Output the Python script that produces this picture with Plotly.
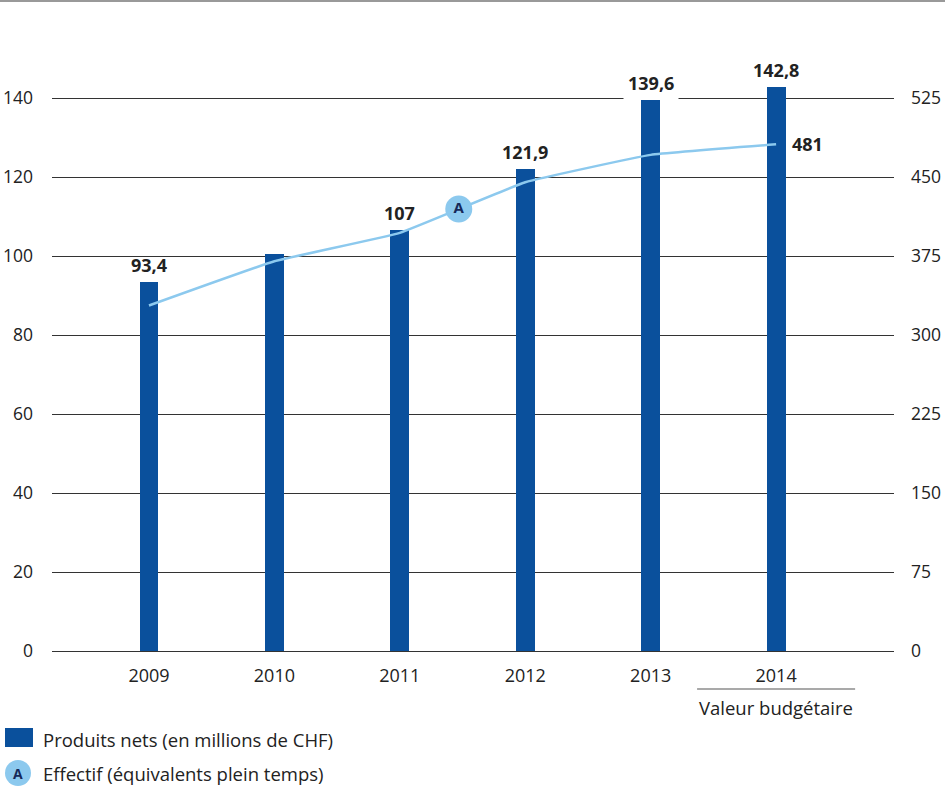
import plotly.graph_objects as go

years = ["2009", "2010", "2011", "2012", "2013", "2014"]
produits = [93.4, 100.5, 106.7, 121.9, 139.6, 142.8]
produits_labels = ["93,4", "", "107", "121,9", "139,6", "142,8"]
effectif = [328, 370, 397, 445, 471, 481]
effectif_label = "481"
left_ticks = [0, 20, 40, 60, 80, 100, 120, 140]
right_ticks = [0, 75, 150, 225, 300, 375, 450, 525]

BAR = "#0A509C"
LINE = "#8CC9EE"
TXT = "#222222"
FONT = "Open Sans"

xs = list(range(len(years)))

fig = go.Figure()
fig.add_trace(go.Bar(x=xs, y=produits, width=0.15, marker=dict(color=BAR, line=dict(width=0)),
                     yaxis="y", showlegend=False, hoverinfo="skip"))
fig.add_trace(go.Scatter(x=xs, y=effectif, mode="lines", yaxis="y2",
                         line=dict(color=LINE, width=2.5, shape="spline", smoothing=0.3),
                         showlegend=False, hoverinfo="skip"))
# "A" marker on the line, between 2011 and 2012
ax = 2.47
ay = effectif[2] + (effectif[3] - effectif[2]) * (ax - 2)
fig.add_trace(go.Scatter(x=[ax], y=[ay], mode="markers+text", yaxis="y2",
                         marker=dict(size=27, color=LINE, line=dict(width=0)),
                         text=["<b>A</b>"], textposition="middle center",
                         textfont=dict(family=FONT, size=15, color="#15295A"),
                         showlegend=False, hoverinfo="skip"))

annotations = []
for i, (v, lab) in enumerate(zip(produits, produits_labels)):
    if lab:
        # only the label sitting on a gridline gets a white backing box
        bg = "white" if abs(v - 140) < 2 else "rgba(0,0,0,0)"
        annotations.append(dict(x=i, y=v, xref="x", yref="y", text=f"<b>{lab}</b>",
                                showarrow=False, yanchor="bottom", yshift=0,
                                bgcolor=bg, borderpad=4,
                                font=dict(family=FONT, size=18, color=TXT)))
annotations.append(dict(x=5, y=effectif[-1], xref="x", yref="y2", text=f"<b>{effectif_label}</b>",
                        showarrow=False, xanchor="left", xshift=14, yanchor="middle",
                        font=dict(family=FONT, size=18, color=TXT)))

# Layout helpers (pixel -> paper)
L, R, T, B = 52, 51, 60, 137
W = 945 - L - R
H = 788 - T - B
def px(x):
    return (x - L) / W
def py(y):
    return (788 - B - y) / H

annotations.append(dict(x=5, y=py(707), xref="x", yref="paper", text="Valeur budgétaire",
                        showarrow=False, yanchor="middle",
                        font=dict(family=FONT, size=18.5, color=TXT)))
annotations.append(dict(x=px(41), y=py(739), xref="paper", yref="paper",
                        text="Produits nets (en millions de CHF)", showarrow=False,
                        xanchor="left", yanchor="middle",
                        font=dict(family=FONT, size=18.5, color=TXT)))
annotations.append(dict(x=px(41), y=py(773), xref="paper", yref="paper",
                        text="Effectif (équivalents plein temps)", showarrow=False,
                        xanchor="left", yanchor="middle",
                        font=dict(family=FONT, size=18.5, color=TXT)))
annotations.append(dict(x=px(18), y=py(773), xref="paper", yref="paper",
                        text="<b>A</b>", showarrow=False, xanchor="center", yanchor="middle",
                        font=dict(family=FONT, size=14, color="#15295A")))

shapes = [
    dict(type="line", xref="x", yref="paper", x0=5 - 0.63, x1=5 + 0.63,
         y0=py(689), y1=py(689), line=dict(color="#555555", width=1.2)),
    dict(type="rect", xref="paper", yref="paper", x0=px(5), x1=px(33), y0=py(747), y1=py(728),
         fillcolor=BAR, line=dict(width=0), layer="above"),
    dict(type="circle", xref="paper", yref="paper", x0=px(5), x1=px(31), y0=py(786), y1=py(760),
         fillcolor=LINE, line=dict(width=0), layer="below"),
    dict(type="line", xref="paper", yref="paper", x0=px(0), x1=px(945), y0=py(1), y1=py(1),
         line=dict(color="#999999", width=2)),
]

ymax = H / 3.95
fig.update_layout(
    width=945, height=788,
    margin=dict(l=L, r=R, t=T, b=B, autoexpand=False),
    paper_bgcolor="white", plot_bgcolor="white",
    font=dict(family=FONT, size=16, color=TXT),
    bargap=0,
    xaxis=dict(range=[-0.773, 5.94], tickmode="array", tickvals=xs, ticktext=years,
               showgrid=False, zeroline=False, showline=False, ticks="", automargin=False,
               ticklabelstandoff=12, tickfont=dict(size=18, color=TXT)),
    yaxis=dict(range=[0, ymax], tickmode="array", tickvals=left_ticks,
               ticktext=[str(t) for t in left_ticks], automargin=False,
               showgrid=True, gridcolor="#333333", gridwidth=1, zeroline=True,
               zerolinecolor="#333333", zerolinewidth=1, showline=False, ticks="",
               ticklabelstandoff=18, tickfont=dict(size=17.5, color=TXT)),
    yaxis2=dict(range=[0, ymax * 3.75], overlaying="y", side="right", tickmode="array",
                tickvals=right_ticks, ticktext=[str(t) for t in right_ticks], automargin=False,
                showgrid=False, zeroline=False, showline=False, ticks="",
                ticklabelstandoff=16, tickfont=dict(size=17.5, color=TXT)),
    annotations=annotations,
    shapes=shapes,
    showlegend=False,
)

fig.write_html("out.html")
